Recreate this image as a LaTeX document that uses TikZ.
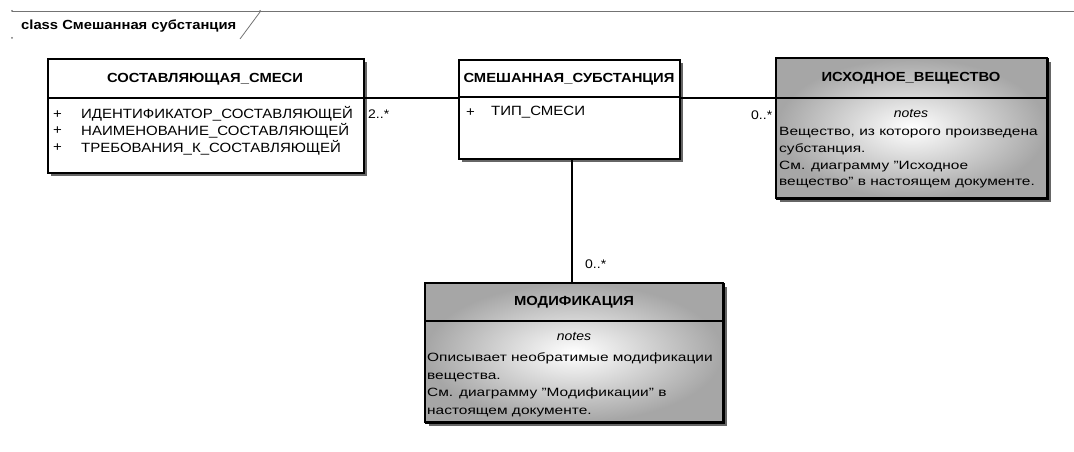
\documentclass[tikz,border=0pt]{standalone}
\usepackage{fontspec}
\setmainfont{Liberation Sans}[FakeStretch=1.12]
\usetikzlibrary{calc}
\begin{document}
\begin{tikzpicture}[x=1pt,y=-1pt,
  box/.style={draw=black,line width=1.8pt,anchor=north west,inner sep=0pt},
  shadowbox/.style={fill=black!60,draw=none},
  hdr/.style={font=\fontsize{13.2}{15}\selectfont\bfseries,inner sep=0pt},
  attr/.style={font=\fontsize{13.4}{15}\selectfont,inner sep=0pt,anchor=west},
  note/.style={font=\fontsize{12}{16.7}\selectfont,inner sep=0pt,anchor=north west,align=left},
  notehd/.style={font=\fontsize{12.5}{14}\selectfont\itshape,inner sep=0pt},
  mult/.style={font=\fontsize{12.5}{14}\selectfont,inner sep=0pt},
  frameline/.style={draw=black!55,line width=0.8pt}]
\useasboundingbox (0,0) rectangle (1074,452);
% frame
\coordinate (fl) at (12,11);
\coordinate (fr) at (1074,11);
\coordinate (tabb) at (240,39);
\coordinate (tabt) at (260,12);
\draw[frameline] (fl) -- (fr);
\draw[frameline] (tabb) -- (tabt);
\fill[black!55] (fl) circle (1pt) (12,38) circle (1pt) (260,11) circle (1pt);
\node[font=\fontsize{13.2}{15}\selectfont\bfseries,anchor=west,inner sep=0pt] (title) at (21,26) {class Смешанная субстанция};

% shadows
\fill[shadowbox] (51,62) rectangle (367,176);
\fill[shadowbox] (462,63) rectangle (683,162);
\fill[shadowbox] (780,62) rectangle (1051,202);
\fill[shadowbox] (429,287) rectangle (727,426);

% box 1
\node[box,fill=white,minimum width=316pt,minimum height=114pt] (b1) at (47,58) {};
\coordinate (b1d) at (47,98);
\draw[line width=1.2pt] (b1d) -- (b1.east |- b1d);
\node[hdr] (b1h) at (205,79) {СОСТАВЛЯЮЩАЯ\_СМЕСИ};
\node[attr] (b1a1) at (53,115) {+};
\node[attr] (b1a2) at (53,131) {+};
\node[attr] (b1a3) at (53,148) {+};
\node[attr] (b1t1) at (81,114) {ИДЕНТИФИКАТОР\_СОСТАВЛЯЮЩЕЙ};
\node[attr] (b1t2) at (81,131) {НАИМЕНОВАНИЕ\_СОСТАВЛЯЮЩЕЙ};
\node[attr] (b1t3) at (81,148) {ТРЕБОВАНИЯ\_К\_СОСТАВЛЯЮЩЕЙ};

% box 2
\node[box,fill=white,minimum width=221pt,minimum height=99pt] (b2) at (458,59) {};
\coordinate (b2d) at (458,97);
\draw[line width=1.2pt] (b2d) -- (b2.east |- b2d);
\node[hdr] (b2h) at (569,79) {СМЕШАННАЯ\_СУБСТАНЦИЯ};
\node[attr] (b2a1) at (466,113) {+};
\node[attr] (b2t1) at (491,112) {ТИП\_СМЕСИ};

% box 3
\node[box,minimum width=271pt,minimum height=140pt] (b3) at (776,58) {};
\shade[inner color=white,outer color=black!35] (776,58) rectangle (1047,198);
\draw[line width=1.8pt] (776,58) rectangle (1047,198);
\coordinate (b3d) at (776,98);
\draw[line width=1.2pt] (b3d) -- (b3.east |- b3d);
\node[hdr] (b3h) at (911,78) {ИСХОДНОЕ\_ВЕЩЕСТВО};
\node[notehd] (b3n) at (911,114) {notes};
\node[note] (b3b) at (779,124) {\scalebox{1.15}[1]{\begin{tabular}{@{}l@{}}Вещество, из которого произведена\\субстанция.\\См. диаграмму "Исходное\\вещество" в настоящем документе.\end{tabular}}};

% box 4
\node[box,minimum width=298pt,minimum height=139pt] (b4) at (425,283) {};
\shade[inner color=white,outer color=black!35] (425,283) rectangle (723,422);
\draw[line width=1.8pt] (425,283) rectangle (723,422);
\coordinate (b4d) at (425,321);
\draw[line width=1.2pt] (b4d) -- (b4.east |- b4d);
\node[hdr] (b4h) at (574,302) {МОДИФИКАЦИЯ};
\node[notehd] (b4n) at (574,337) {notes};
\node[note,font=\fontsize{12}{17.6}\selectfont] (b4b) at (427,349) {\scalebox{1.15}[1]{\begin{tabular}{@{}l@{}}Описывает необратимые модификации\\вещества.\\См. диаграмму "Модификации" в\\настоящем документе.\end{tabular}}};

% connectors
\draw[line width=1.2pt] (b1.east |- b1d) -- (b2.west |- b1d);
\draw[line width=1.2pt] (b2.east |- b3d) -- (b3.west |- b3d);
\coordinate (vx) at (572,0);
\draw[line width=1.4pt] (b2.south -| vx) -- (b4.north -| vx);

% multiplicities
\node[mult,anchor=west] (m1) at (368,114) {2..*};
\node[mult,anchor=west] (m2) at (751,115) {0..*};
\node[mult,anchor=west] (m3) at (585,264) {0..*};
\end{tikzpicture}
\end{document}
